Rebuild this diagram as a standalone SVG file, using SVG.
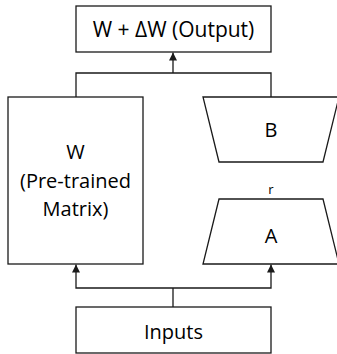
<svg xmlns="http://www.w3.org/2000/svg" width="337" height="354" viewBox="0 0 337 354">
  <style>
    .box { fill: #ffffff; stroke: #1a1a1a; stroke-width: 1.3; }
    .wire { fill: none; stroke: #1a1a1a; stroke-width: 1.3; }
    .lbl { font-family: "Open Sans", "Liberation Sans", sans-serif; font-size: 20px; fill: #000000; text-anchor: middle; }
    .title { font-size: 21px; }
    .small { font-size: 13px; }
  </style>
  <defs>
    <marker id="arrow" viewBox="0 0 8 10" refX="8" refY="5" markerWidth="8" markerHeight="10" markerUnits="userSpaceOnUse" orient="auto">
      <path d="M0,1 L8,5 L0,9 Z" fill="#1a1a1a"/>
    </marker>
  </defs>
  <rect width="337" height="354" fill="#ffffff"/>

  <g id="connectors">
    <!-- merge of W and B into the output -->
    <path class="wire" d="M76,97 V73 H271 V97"/>
    <path class="wire" d="M173,73 V52.5" marker-end="url(#arrow)"/>
    <!-- inputs fan out to W and A -->
    <path class="wire" d="M173,307 V288"/>
    <path class="wire" d="M173,288 H76 V264.5" marker-end="url(#arrow)"/>
    <path class="wire" d="M173,288 H271 V264.5" marker-end="url(#arrow)"/>
  </g>

  <g id="output">
    <rect class="box" x="76" y="6" width="195" height="46"/>
    <text class="lbl title" x="173.5" y="37">W + ΔW (Output)</text>
  </g>

  <g id="pretrained">
    <rect class="box" x="8" y="97" width="135" height="167"/>
    <text class="lbl" x="75.5" y="159">W</text>
    <text class="lbl" x="75.5" y="188">(Pre-trained</text>
    <text class="lbl" x="75.5" y="216">Matrix)</text>
  </g>

  <g id="b">
    <polygon class="box" points="203,97 339,97 323,162 219,162"/>
    <text class="lbl" x="271" y="137">B</text>
  </g>

  <g id="rank">
    <text class="lbl small" x="271" y="194">r</text>
  </g>

  <g id="a">
    <polygon class="box" points="219,199 323,199 339,264 203,264"/>
    <text class="lbl" x="271" y="243">A</text>
  </g>

  <g id="inputs">
    <rect class="box" x="76" y="307" width="195" height="46"/>
    <text class="lbl" x="173.5" y="339">Inputs</text>
  </g>
</svg>
